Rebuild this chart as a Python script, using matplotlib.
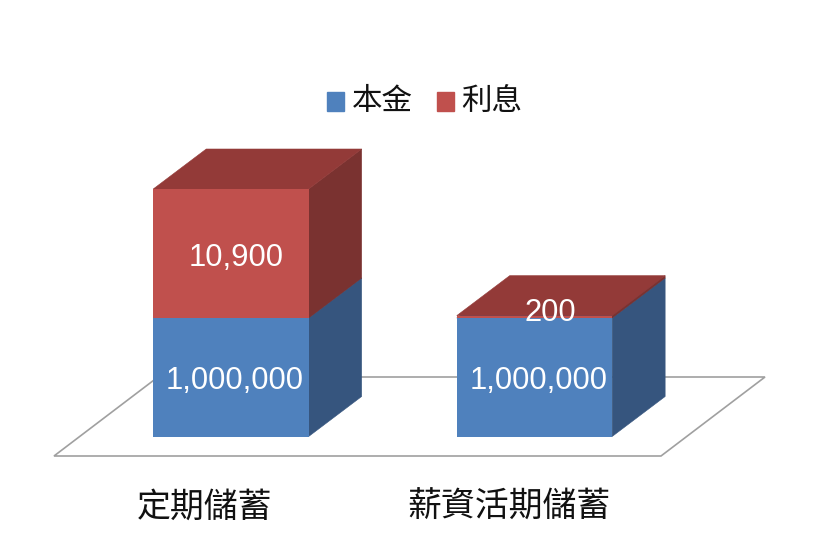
import matplotlib
matplotlib.use('Agg')
import matplotlib.pyplot as plt
import numpy as np
from matplotlib.patches import Patch, Polygon
from matplotlib.transforms import IdentityTransform

plt.rcParams['font.family'] = ['Noto Sans CJK TC', 'DejaVu Sans']

# data
categories = ['定期儲蓄', '薪資活期儲蓄']
series_names = ['本金', '利息']
principal = [1000000, 1000000]
interest = [10900, 200]

# colours: front, side, top
blue = ['#4f81bd', '#36557e', '#3d608c']
red = ['#c0504d', '#7a3230', '#933a38']

W, H = 820, 546
fig = plt.figure(figsize=(W / 100, H / 100), dpi=100, facecolor='white')

# axes box is the front face area, in pixels from the top left of the picture
left, right, top, bottom = 54, 661, 189, 436.5
ax = fig.add_axes([left / W, 1 - bottom / H, (right - left) / W, (bottom - top) / H])
ax.set_axis_off()

# the original chart has a broken value axis, so the scale is piecewise
knots = [0, 1000000, 1010900]
heights = [0, 118.5, 247.5]
ax.set_yscale('function', functions=(lambda v: np.interp(v, knots, heights),
                                     lambda p: np.interp(p, heights, knots)))
ax.set_xlim(-0.583, 1.417)
ax.set_ylim(0, 1010900)

x = np.arange(len(categories))
bar_w = 0.512
dx, dy = 53, 40


def px(a, b):
    return ax.transData.transform((a, b))


def side_top(i, y0, y1, colors):
    x1 = x[i] + bar_w / 2
    x0 = x[i] - bar_w / 2
    p0, p1, p2 = px(x1, y0), px(x1, y1), px(x0, y1)
    off = np.array([dx, dy])
    side = [p0, p1, p1 + off, p0 + off]
    roof = [p2, p1, p1 + off, p2 + off]
    ax.add_patch(Polygon(side, fc=colors[1], ec=colors[1], lw=0.4, transform=IdentityTransform(), clip_on=False, zorder=3))
    ax.add_patch(Polygon(roof, fc=colors[2], ec=colors[2], lw=0.4, transform=IdentityTransform(), clip_on=False, zorder=3))


# floor
floor = np.array([[54, 456], [661, 456], [765, 377], [158, 377]], dtype=float)
floor[:, 1] = H - floor[:, 1]
ax.add_patch(Polygon(floor, fc='white', ec='#a0a0a0', lw=1.2, transform=IdentityTransform(), clip_on=False, zorder=1))

ax.bar(x, principal, bar_w, color=blue[0], zorder=4)
ax.bar(x, interest, bar_w, bottom=principal, color=red[0], zorder=4)

for i in x:
    side_top(i, 0, principal[i], blue)
    side_top(i, principal[i], principal[i] + interest[i], red)

# value labels
label_font = dict(family='Liberation Sans', fontsize=22.3, color='white', ha='center', va='center',
                  textcoords='offset pixels', zorder=6, annotation_clip=False)
for i in x:
    ax.annotate(f'{principal[i]:,}', (i, principal[i] / 2), xytext=(4, -4), **label_font)
ax.annotate(f'{interest[0]:,}', (0, principal[0] + interest[0] / 2), xytext=(5, -4), **label_font)
ax.annotate(f'{interest[1]:,}', (1, principal[1] + interest[1] / 2), xytext=(16, 4), **label_font)

# category labels
for i, name in enumerate(categories):
    ax.annotate(name, (i, 0), xytext=(-26, -71), textcoords='offset pixels', ha='center', va='center',
                fontsize=24.4, color='#111111', annotation_clip=False)

handles = [Patch(color=blue[0], label=series_names[0]), Patch(color=red[0], label=series_names[1])]
leg = fig.legend(handles=handles, loc='center', bbox_to_anchor=(425 / W, 1 - 101 / H), frameon=False, ncol=2,
                 fontsize=22, handlelength=0.55, handleheight=0.55, handletextpad=0.25, columnspacing=0.8,
                 labelcolor='#111111')
# squares sit a little lower than the text
for patch in leg.get_patches():
    patch.set_y(patch.get_y() - 2)

fig.savefig('out.png', dpi=100)
